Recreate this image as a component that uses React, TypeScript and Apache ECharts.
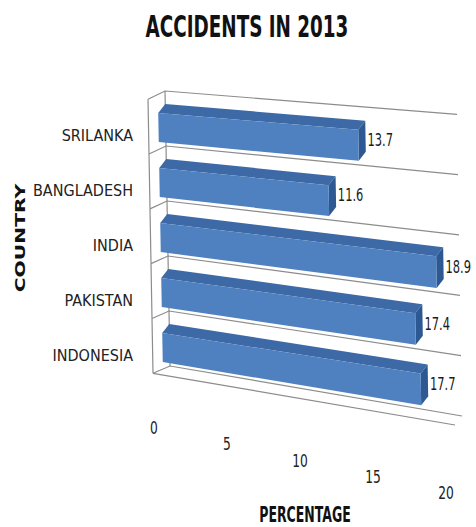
import React, { useEffect, useRef } from "react";
import * as echarts from "echarts";

const categories = ["SRILANKA", "BANGLADESH", "INDIA", "PAKISTAN", "INDONESIA"];
const values = [13.7, 11.6, 18.9, 17.4, 17.7];
const xTicks = [0, 5, 10, 15, 20];
const titleText = "ACCIDENTS IN 2013";
const xName = "PERCENTAGE";
const yName = "COUNTRY";

const GRID = { left: 158, top: 100, width: 292, height: 275 };
const DEPTH = [7, -9];
const NARROW = "'Liberation Sans Narrow', 'DejaVu Sans Condensed', sans-serif";
const FRONT = "#4F80BF";
const TOPC = "#3D69A6";
const ENDC = "#2D5891";
const LINE = "#8c8c8c";

function project(x: number, y: number): number[] {
  const u = (x - GRID.left) / GRID.width;
  const t = (y - GRID.top) / GRID.height;
  const D = 23.3 + 0.097 * (y - GRID.top);
  return [x + 5 * t, y + u * D];
}
const back = (p: number[]) => [p[0] + DEPTH[0], p[1] + DEPTH[1]];

export default function App() {
  const ref = useRef<HTMLDivElement>(null);
  useEffect(() => {
    document.body.style.margin = "0";
    const chart = echarts.init(ref.current!, null, { renderer: "svg" });
    const last = categories.length - 1;
    const xMax = xTicks[xTicks.length - 1];
    chart.setOption({
      animation: false,
      backgroundColor: "#ffffff",
      grid: { left: GRID.left, top: GRID.top, width: GRID.width, height: GRID.height },
      xAxis: {
        type: "value",
        min: 0,
        max: xMax,
        interval: 5,
        show: false,
      },
      yAxis: {
        type: "category",
        data: categories,
        inverse: true,
        axisLine: { show: false },
        axisTick: { show: false },
        splitLine: { show: false },
        axisLabel: {
          margin: 25,
          fontFamily: NARROW,
          fontSize: 16,
          color: "#222",
          verticalAlign: "top",
          lineHeight: 16,
        },
      },
      graphic: [
        {
          type: "text",
          x: 247,
          y: 26,
          scaleX: 0.68,
          style: {
            text: titleText,
            font: "bold 30px " + NARROW,
            fill: "#111",
            align: "center",
            verticalAlign: "middle",
          },
        },
        {
          type: "text",
          x: 20,
          y: 238,
          rotation: Math.PI / 2,
          scaleX: 1.45,
          style: {
            text: yName,
            font: "bold 14px 'DejaVu Sans', sans-serif",
            fill: "#111",
            align: "center",
            verticalAlign: "middle",
          },
        },
        {
          type: "text",
          x: 305,
          y: 515,
          scaleX: 0.87,
          scaleY: 1.3,
          style: {
            text: xName,
            font: "bold 16px " + NARROW,
            fill: "#111",
            align: "center",
            verticalAlign: "middle",
          },
        },
      ],
      series: [
        {
          type: "custom",
          name: "frame",
          coordinateSystem: "cartesian2d",
          clip: false,
          silent: true,
          z: 1,
          data: categories.map((_, i) => [0, i]),
          renderItem: (params: any, api: any) => {
            const c = api.value(1);
            const a = api.coord([0, c]);
            const R = api.coord([xMax, c])[0];
            const band = api.size([0, 1])[1];
            const L = a[0];
            const y0 = a[1] - band / 2;
            const y1 = a[1] + band / 2;
            const st = { stroke: LINE, lineWidth: 1.2, fill: "none" };
            const boundary = (y: number) => ({
              type: "polyline",
              shape: { points: [project(L - 10, y), back(project(L, y)), back(project(R, y))] },
              style: st,
            });
            const children: any[] = [
              boundary(y0),
              { type: "line", shape: { x1: project(L - 10, y0)[0], y1: project(L - 10, y0)[1], x2: project(L - 10, y1)[0], y2: project(L - 10, y1)[1] }, style: st },
              { type: "line", shape: { x1: back(project(L, y0))[0], y1: back(project(L, y0))[1], x2: back(project(L, y1))[0], y2: back(project(L, y1))[1] }, style: st },
            ];
            if (c === last) {
              children.push(boundary(y1));
              const p = project(L - 10, y1);
              const q = project(R, y1);
              children.push({ type: "line", shape: { x1: p[0], y1: p[1], x2: q[0], y2: q[1] }, style: st });
            }
            return { type: "group", children };
          },
        },
        {
          type: "custom",
          name: "bars",
          coordinateSystem: "cartesian2d",
          clip: false,
          z: 2,
          data: values.map((v, i) => [v, i]),
          renderItem: (params: any, api: any) => {
            const v = api.value(0);
            const c = api.value(1);
            const a = api.coord([0, c]);
            const b = api.coord([v, c]);
            const band = api.size([0, 1])[1];
            const h = band * 0.53;
            const top = a[1] - h / 2;
            const bot = a[1] + h / 2;
            const A = project(a[0], top);
            const B = project(b[0], top);
            const C = project(b[0], bot);
            const E = project(a[0], bot);
            const M = project(b[0], a[1]);
            return {
              type: "group",
              children: [
                { type: "polygon", shape: { points: [A, B, back(B), back(A)] }, style: { fill: TOPC } },
                { type: "polygon", shape: { points: [B, C, back(C), back(B)] }, style: { fill: ENDC } },
                { type: "polygon", shape: { points: [A, B, C, E] }, style: { fill: FRONT } },
                {
                  type: "text",
                  x: M[0] + DEPTH[0] + 2,
                  y: M[1] - 5,
                  scaleX: 0.85,
                  scaleY: 1.15,
                  style: {
                    text: String(v),
                    font: "15px " + NARROW,
                    fill: "#1a1a1a",
                    align: "left",
                    verticalAlign: "middle",
                  },
                },
              ],
            };
          },
        },
        {
          type: "custom",
          name: "ticks",
          coordinateSystem: "cartesian2d",
          clip: false,
          silent: true,
          z: 3,
          data: xTicks.map((t) => [t, last]),
          renderItem: (params: any, api: any) => {
            const v = api.value(0);
            const c = api.value(1);
            const p = api.coord([v, c]);
            const band = api.size([0, 1])[1];
            const P = project(p[0], p[1] + band / 2);
            const u = (p[0] - GRID.left) / GRID.width;
            return {
              type: "text",
              x: P[0] - 9,
              y: P[1] + 53 + 15 * u,
              scaleX: 0.85,
              scaleY: 1.15,
              style: {
                text: String(v),
                font: "16px " + NARROW,
                fill: "#222",
                align: "center",
                verticalAlign: "middle",
              },
            };
          },
        },
      ],
    });
    return () => chart.dispose();
  }, []);
  return <div ref={ref} style={{ width: 476, height: 527 }} />;
}
